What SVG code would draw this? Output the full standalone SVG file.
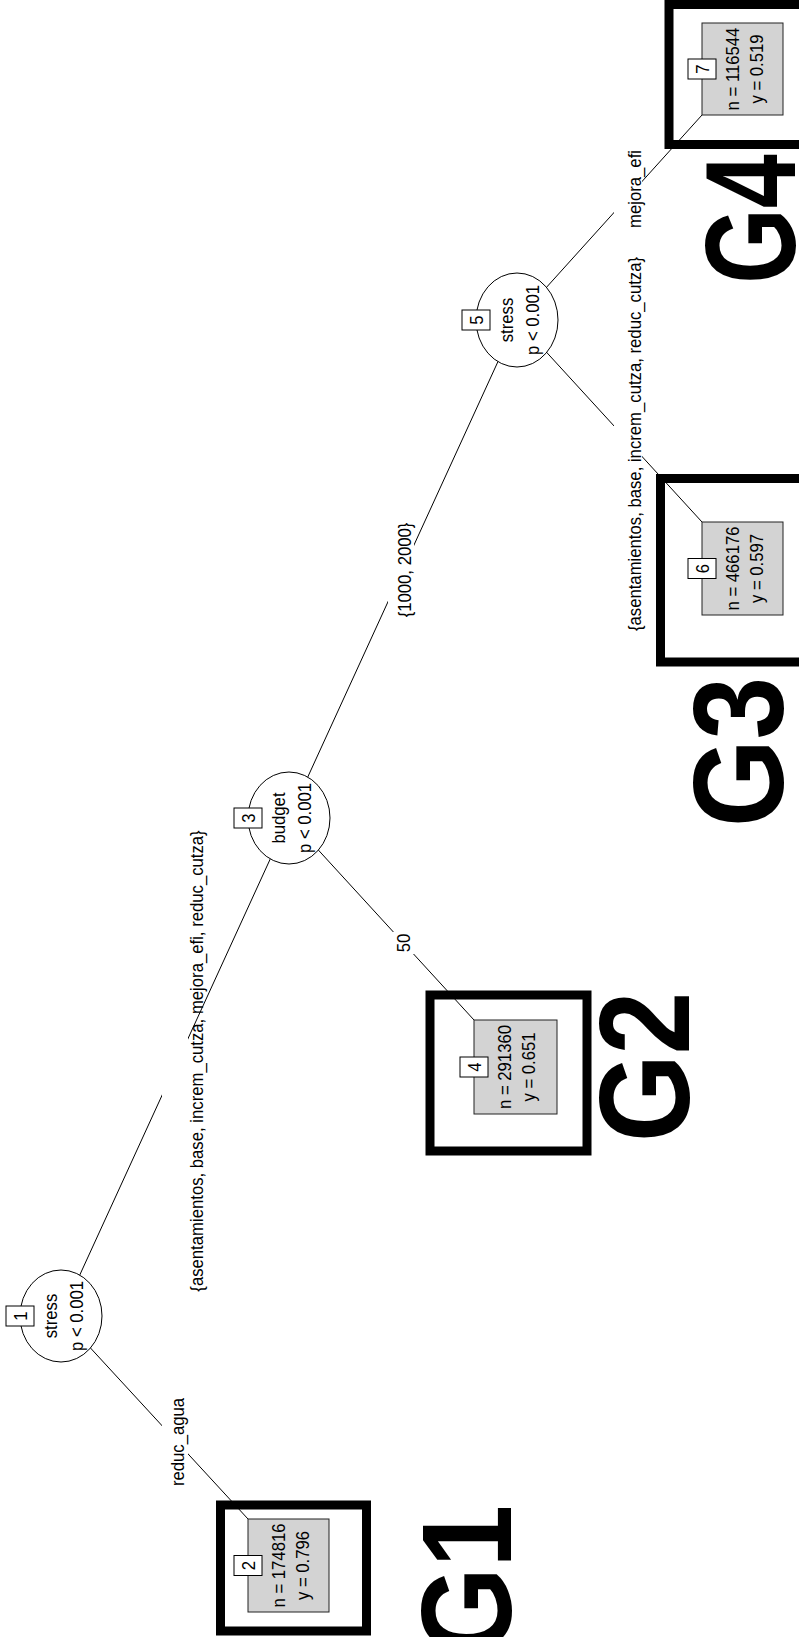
<svg xmlns="http://www.w3.org/2000/svg" width="799" height="1637" viewBox="0 0 799 1637">
<style>
.edge{stroke:#000;stroke-width:1;fill:none}
.bg{fill:#fff;stroke:none}
.ell{fill:#fff;stroke:#000;stroke-width:1}
.idb{fill:#fff;stroke:#000;stroke-width:1}
.term{fill:#d3d3d3;stroke:#222;stroke-width:1}
.frame{fill:none;stroke:#000;stroke-width:9}
text{font-family:"Liberation Sans",Arial,sans-serif;font-size:19px;fill:#000;text-anchor:middle}
.g{font-weight:bold;font-size:128px}
</style>
<rect width="799" height="1637" fill="#fff"/>
<g id="connectors">
<line class="edge" x1="61" y1="1316" x2="248" y2="1519"/>
<line class="edge" x1="61" y1="1316" x2="289" y2="818"/>
<line class="edge" x1="289" y1="818" x2="474" y2="1020"/>
<line class="edge" x1="289" y1="818" x2="517" y2="320"/>
<line class="edge" x1="517" y1="320" x2="702" y2="522"/>
<line class="edge" x1="517" y1="320" x2="702" y2="115"/>
<rect class="bg" x="162" y="1398" width="26" height="89"/>
<rect class="bg" x="162" y="1030" width="26" height="80"/>
<rect class="bg" x="388" y="932" width="26" height="22"/>
<rect class="bg" x="388" y="523" width="26" height="94"/>
<rect class="bg" x="614" y="400" width="28" height="80"/>
<rect class="bg" x="614" y="160" width="28" height="64"/>
<text transform="translate(184,1442) rotate(-90) scale(0.88,1)">reduc_agua</text>
<text transform="translate(203,1061) rotate(-90) scale(0.88,1)">{asentamientos, base, increm_cutza, mejora_efi, reduc_cutza}</text>
<text transform="translate(410,943) rotate(-90) scale(0.88,1)">50</text>
<text transform="translate(411,570) rotate(-90) scale(0.88,1)">{1000, 2000}</text>
<text transform="translate(641,444) rotate(-90) scale(0.88,1)">{asentamientos, base, increm_cutza, reduc_cutza}</text>
<text transform="translate(641,189) rotate(-90) scale(0.88,1)">mejora_efi</text>
</g>
<g id="node1">
<ellipse class="ell" cx="61" cy="1316" rx="41" ry="46"/>
<rect class="idb" x="6" y="1306" width="28" height="20"/>
<text transform="translate(27,1316) rotate(-90) scale(0.88,1)">1</text>
<text transform="translate(57,1316) rotate(-90) scale(0.88,1)">stress</text>
<text transform="translate(83,1316) rotate(-90) scale(0.88,1)">p &lt; 0.001</text>
</g>
<g id="node2">
<rect class="frame" x="220.5" y="1505" width="146" height="126"/>
<rect class="term" x="248" y="1519" width="81" height="93"/>
<rect class="idb" x="234" y="1555.5" width="28" height="20"/>
<text transform="translate(255,1565.5) rotate(-90) scale(0.88,1)">2</text>
<text transform="translate(285,1565.5) rotate(-90) scale(0.88,1)">n = 174816</text>
<text transform="translate(309,1565.5) rotate(-90) scale(0.88,1)">y = 0.796</text>
<text class="g" transform="translate(511,1580) rotate(-90) scale(0.88,1)">G1</text>
</g>
<g id="node3">
<ellipse class="ell" cx="289" cy="818" rx="41" ry="46"/>
<rect class="idb" x="234" y="808" width="28" height="20"/>
<text transform="translate(255,818) rotate(-90) scale(0.88,1)">3</text>
<text transform="translate(285,818) rotate(-90) scale(0.88,1)">budget</text>
<text transform="translate(311,818) rotate(-90) scale(0.88,1)">p &lt; 0.001</text>
</g>
<g id="node4">
<rect class="frame" x="430" y="995" width="157" height="156"/>
<rect class="term" x="474" y="1020" width="83" height="94"/>
<rect class="idb" x="460" y="1057" width="28" height="20"/>
<text transform="translate(481,1067) rotate(-90) scale(0.88,1)">4</text>
<text transform="translate(511,1067) rotate(-90) scale(0.88,1)">n = 291360</text>
<text transform="translate(535,1067) rotate(-90) scale(0.88,1)">y = 0.651</text>
<text class="g" transform="translate(689,1067) rotate(-90) scale(0.88,1)">G2</text>
</g>
<g id="node5">
<ellipse class="ell" cx="517" cy="320" rx="41" ry="47"/>
<rect class="idb" x="462" y="310" width="28" height="20"/>
<text transform="translate(483,320) rotate(-90) scale(0.88,1)">5</text>
<text transform="translate(513,320) rotate(-90) scale(0.88,1)">stress</text>
<text transform="translate(539,320) rotate(-90) scale(0.88,1)">p &lt; 0.001</text>
</g>
<g id="node6">
<rect class="frame" x="660.5" y="478.5" width="160" height="183.5"/>
<rect class="term" x="702" y="522" width="81" height="93"/>
<rect class="idb" x="688" y="558.5" width="28" height="20"/>
<text transform="translate(709,568.5) rotate(-90) scale(0.88,1)">6</text>
<text transform="translate(739,568.5) rotate(-90) scale(0.88,1)">n = 466176</text>
<text transform="translate(763,568.5) rotate(-90) scale(0.88,1)">y = 0.597</text>
<text class="g" transform="translate(783,752) rotate(-90) scale(0.88,1)">G3</text>
</g>
<g id="node7">
<rect class="frame" x="669" y="4.5" width="150" height="140"/>
<rect class="term" x="702" y="23" width="81" height="92"/>
<rect class="idb" x="688" y="59" width="28" height="20"/>
<text transform="translate(709,69) rotate(-90) scale(0.88,1)">7</text>
<text transform="translate(739,69) rotate(-90) scale(0.88,1)">n = 116544</text>
<text transform="translate(763,69) rotate(-90) scale(0.88,1)">y = 0.519</text>
<text class="g" transform="translate(795,219) rotate(-90) scale(0.76,1)">G4</text>
</g>
</svg>
